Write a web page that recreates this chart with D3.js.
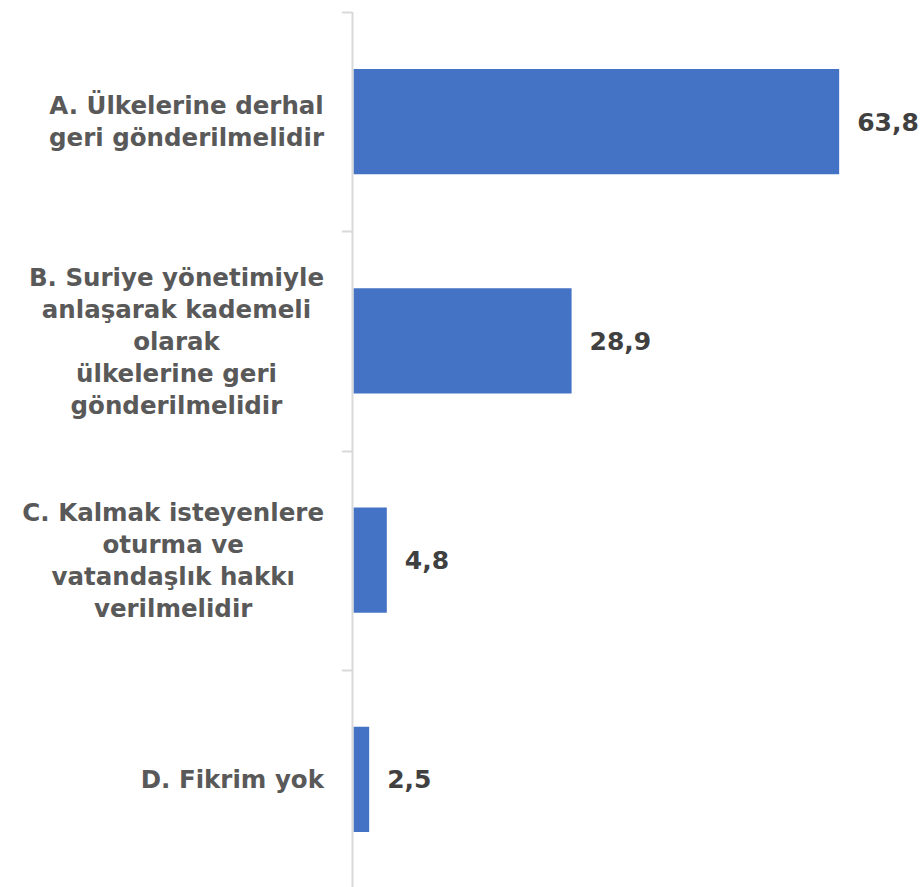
<!DOCTYPE html>
<html><head><meta charset="utf-8">
<script src="https://cdn.jsdelivr.net/npm/d3@7"></script>
<style>html,body{margin:0;padding:0;background:#fff;}</style>
</head><body>
<svg id="chart" width="923" height="887"></svg>
<script>
const categories = ["A", "B", "C", "D"];
const labelLines = [
  ["A. Ülkelerine derhal", "geri gönderilmelidir"],
  ["B. Suriye yönetimiyle", "anlaşarak kademeli", "olarak", "ülkelerine geri", "gönderilmelidir"],
  ["C. Kalmak isteyenlere", "oturma ve", "vatandaşlık hakkı", "verilmelidir"],
  ["D. Fikrim yok"]
];
const values = [63.8, 28.9, 4.8, 2.5];
const valueLabels = ["63,8", "28,9", "4,8", "2,5"];

const svg = d3.select("#chart");
const x = d3.scaleLinear().domain([0, 70]).range([350, 886.7]);
const y = d3.scaleBand().domain(categories).range([12, 889]).paddingInner(0.52).paddingOuter(0.26);

const axisX = 352.5;
const axisRight = axisX + 1;

// bars (start at the visible edge of the axis line)
svg.selectAll("rect.bar").data(values).join("rect")
  .attr("class", "bar")
  .attr("x", axisRight)
  .attr("y", (d, i) => y(categories[i]))
  .attr("width", d => Math.max(0, x(d) - axisRight))
  .attr("height", y.bandwidth())
  .attr("fill", "#4472c4");

// axis line + ticks
svg.append("line").attr("x1", axisX).attr("x2", axisX).attr("y1", 12).attr("y2", 887)
  .attr("stroke", "#d9d9d9").attr("stroke-width", 2);
const step = y.step();
const bounds = d3.range(categories.length + 1).map(i => y.range()[0] + i * step);
svg.selectAll("line.tick").data(bounds).join("line")
  .attr("class", "tick")
  .attr("x1", 342).attr("x2", axisX)
  .attr("y1", d => Math.round(d) + 0.5).attr("y2", d => Math.round(d) + 0.5)
  .attr("stroke", "#d9d9d9").attr("stroke-width", 2);

// value labels
svg.selectAll("text.val").data(values).join("text")
  .attr("class", "val")
  .attr("x", d => x(d) + 18)
  .attr("y", (d, i) => y(categories[i]) + y.bandwidth() / 2)
  .attr("dy", "0.36em")
  .attr("font-family", "'DejaVu Sans', sans-serif")
  .attr("font-weight", "bold")
  .attr("font-size", 25)
  .attr("fill", "#404040")
  .text((d, i) => valueLabels[i]);

// category labels
const rightEdge = 324;
const lineH = 32;
categories.forEach((c, i) => {
  const lines = labelLines[i];
  const g = svg.append("g");
  const cy = y(c) + y.bandwidth() / 2;
  const texts = g.selectAll("text").data(lines).join("text")
    .attr("font-family", "'DejaVu Sans', sans-serif")
    .attr("font-weight", "bold")
    .attr("font-size", 24.5)
    .attr("fill", "#595959")
    .attr("text-anchor", "middle")
    .attr("y", (d, j) => cy + (j - (lines.length - 1) / 2) * lineH)
    .attr("dy", "0.36em")
    .text(d => d);
  let maxW = 0;
  texts.each(function () { maxW = Math.max(maxW, this.getComputedTextLength()); });
  texts.attr("x", rightEdge - maxW / 2);
});
</script>
</body></html>
